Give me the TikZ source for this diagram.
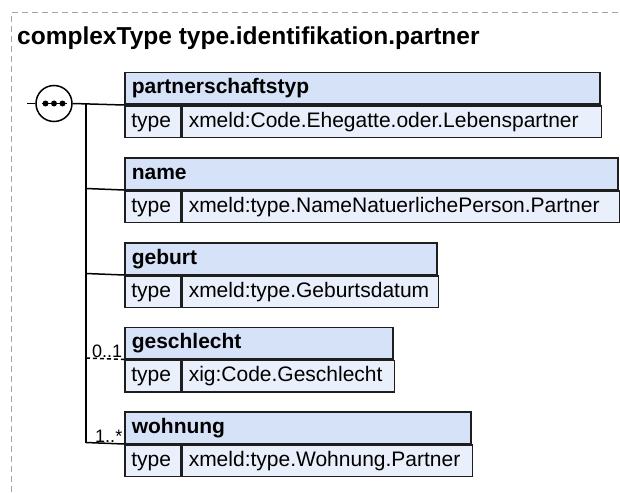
\documentclass[tikz,border=0pt]{standalone}
\usepackage{fontspec}
\setmainfont{Liberation Sans}
\definecolor{hdrfill}{RGB}{214,226,247}
\definecolor{rowfill}{RGB}{234,240,251}
\definecolor{boxline}{RGB}{30,30,30}
\definecolor{framegray}{RGB}{165,165,165}
\begin{document}
\begin{tikzpicture}[x=1pt,y=-1pt,
  hdr/.style={draw=boxline, line width=1.5pt, fill=hdrfill, anchor=north west,
    minimum height=31.5pt, inner xsep=7pt, inner ysep=0pt, align=left,
    font=\fontsize{21}{25}\selectfont\bfseries, text height=15pt, text depth=4pt},
  cell/.style={draw=boxline, line width=1.5pt, fill=rowfill, anchor=north west,
    minimum height=31.5pt, inner xsep=6.5pt, inner ysep=0pt, align=left,
    font=\fontsize{21}{25}\selectfont, text height=15pt, text depth=4pt},
  conn/.style={draw=black, line width=1.5pt},
  mult/.style={font=\fontsize{18}{21}\selectfont, inner sep=1pt, anchor=south east}
]
\useasboundingbox (0,0) rectangle (620,492);
% frame
\draw[framegray, line width=1pt, dash pattern=on 6pt off 4pt] (11,492) -- (11,13) -- (620,13);
\node[anchor=base west, inner sep=0pt, font=\fontsize{24.5}{28}\selectfont\bfseries] (title) at (17,45) {complexType type.identifikation.partner};

% boxes
\node[hdr, text width=461pt] (h1) at (124,72) {partnerschaftstyp};
\node[cell, text width=43pt] (t1) at (h1.south west) {type};
\node[cell, text width=406pt] (v1) at (t1.north east) {xmeld:Code.Ehegatte.oder.Lebenspartner};

\node[hdr, text width=479pt] (h2) at (124,157) {name};
\node[cell, text width=43pt] (t2) at (h2.south west) {type};
\node[cell, text width=424pt] (v2) at (t2.north east) {xmeld:type.NameNatuerlichePerson.Partner};

\node[hdr, text width=298pt] (h3) at (124,242) {geburt};
\node[cell, text width=43pt] (t3) at (h3.south west) {type};
\node[cell, text width=243pt] (v3) at (t3.north east) {xmeld:type.Geburtsdatum};

\node[hdr, text width=254pt] (h4) at (124,326.5) {geschlecht};
\node[cell, text width=43pt] (t4) at (h4.south west) {type};
\node[cell, text width=199pt] (v4) at (t4.north east) {xig:Code.Geschlecht};

\node[hdr, text width=332pt] (h5) at (124,411) {wohnung};
\node[cell, text width=43pt] (t5) at (h5.south west) {type};
\node[cell, text width=277pt] (v5) at (t5.north east) {xmeld:type.Wohnung.Partner};

% sequence compositor
\node[circle, draw=black, line width=1.5pt, fill=white, minimum size=36pt, inner sep=0pt] (seq) at (54,103.5) {};
\draw[line width=1.2pt] ([xshift=-12.5pt]seq.center) -- ([xshift=12.5pt]seq.center);
\foreach \dx in {-8.5,0,8.5} \fill ([xshift=\dx pt]seq.center) circle (3pt);
\coordinate (in) at (27,103.5);
\draw[conn] (in) -- (seq.west);
\draw[conn] (seq.east) -- (h1.south west);

% trunk
\coordinate (c2) at (86,188.5);
\coordinate (c3) at (86,273.5);
\coordinate (c4) at (86,358);
\coordinate (c5) at (86,442.5);
\coordinate (ctop) at (86,103.5);
\draw[conn] (ctop) -- (c5);
\draw[conn] (c2) -- (h2.south west);
\draw[conn] (c3) -- (h3.south west);
\draw[conn, dash pattern=on 4pt off 3pt] (c4) -- node[mult, pos=1] (m4) {0..1} (h4.south west);
\draw[conn] (c5) -- node[mult, pos=1] (m5) {1..*} (h5.south west);
\end{tikzpicture}
\end{document}
